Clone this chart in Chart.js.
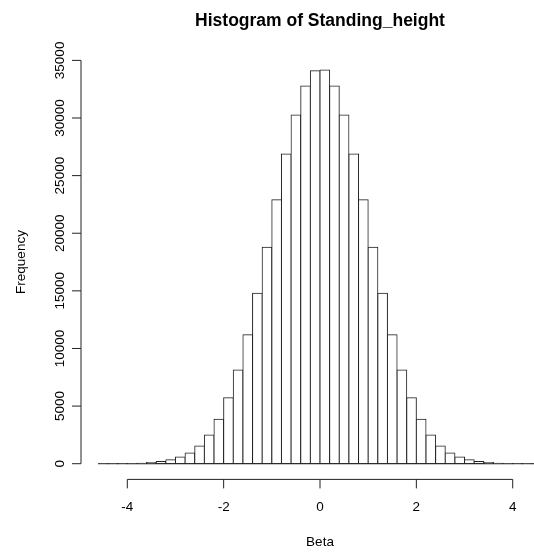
<!DOCTYPE html>
<html>
<head>
<meta charset="utf-8">
<script src="https://cdn.jsdelivr.net/npm/chart.js@4.4.1/dist/chart.umd.min.js"></script>
<style>
  html, body { margin: 0; padding: 0; background: #fff; }
  canvas { display: block; }
</style>
</head>
<body>
<canvas id="hist" width="534" height="554"></canvas>
<script>
// histogram bins (width 0.2) and counts
const breaks = [-4.6, -4.4, -4.2, -4.0, -3.8, -3.6, -3.4, -3.2, -3.0, -2.8, -2.6, -2.4,
  -2.2, -2.0, -1.8, -1.6, -1.4, -1.2, -1.0, -0.8, -0.6, -0.4, -0.2, 0.0,
  0.2, 0.4, 0.6, 0.8, 1.0, 1.2, 1.4, 1.6, 1.8, 2.0, 2.2, 2.4,
  2.6, 2.8, 3.0, 3.2, 3.4, 3.6, 3.8, 4.0, 4.2, 4.4, 4.6]
const counts = [2, 4, 9, 20, 45, 95, 185, 350, 580, 930, 1540, 2490,
  3850, 5730, 8130, 11200, 14790, 18780, 22910, 26870, 30260, 32780, 34110,
  34160, 32780, 30260, 26870, 22910, 18780, 14790, 11200, 8130, 5730, 3850,
  2490, 1540, 930, 580, 350, 185, 95, 45, 20, 9, 4, 2]
const xTicks = [-4, -2, 0, 2, 4]
const yTicks = [0, 5000, 10000, 15000, 20000, 25000, 30000, 35000]

const title = 'Histogram of Standing_height'
const xLabel = 'Beta'
const yLabel = 'Frequency'

const FONT = '"Liberation Sans", Arial, Helvetica, sans-serif'

const bars = counts.map((c, i) => ({ x: (breaks[i] + breaks[i + 1]) / 2, y: c }))
const baseline = [{ x: breaks[0], y: 0 }, { x: breaks[breaks.length - 1], y: 0 }]

// R-style axes: lines only span the tick range, labels drawn off the scales
const rAxes = {
  id: 'rAxes',
  afterDraw(chart) {
    const ctx = chart.ctx
    const xs = chart.scales.x
    const ys = chart.scales.y
    const area = chart.chartArea
    ctx.save()
    ctx.strokeStyle = '#222'
    ctx.fillStyle = '#000'
    ctx.lineWidth = 1

    // x axis
    const axY = area.bottom
    ctx.beginPath()
    ctx.moveTo(xs.getPixelForValue(xTicks[0]), axY)
    ctx.lineTo(xs.getPixelForValue(xTicks[xTicks.length - 1]), axY)
    xTicks.forEach(t => {
      const px = xs.getPixelForValue(t)
      ctx.moveTo(px, axY)
      ctx.lineTo(px, axY + 9)
    })
    ctx.stroke()
    ctx.font = '13.5px ' + FONT
    ctx.textAlign = 'center'
    ctx.textBaseline = 'middle'
    xTicks.forEach(t => ctx.fillText(String(t), xs.getPixelForValue(t), 507))

    // y axis
    const axX = area.left
    ctx.beginPath()
    ctx.moveTo(axX, ys.getPixelForValue(yTicks[0]))
    ctx.lineTo(axX, ys.getPixelForValue(yTicks[yTicks.length - 1]))
    yTicks.forEach(t => {
      const py = ys.getPixelForValue(t)
      ctx.moveTo(axX, py)
      ctx.lineTo(axX - 9, py)
    })
    ctx.stroke()
    yTicks.forEach(t => {
      ctx.save()
      ctx.translate(60, ys.getPixelForValue(t))
      ctx.rotate(-Math.PI / 2)
      ctx.fillText(String(t), 0, 0)
      ctx.restore()
    })

    // titles
    ctx.fillText(xLabel, xs.getPixelForValue(0), 542)
    ctx.save()
    ctx.translate(21, 262)
    ctx.rotate(-Math.PI / 2)
    ctx.fillText(yLabel, 0, 0)
    ctx.restore()

    ctx.font = 'bold 17.5px ' + FONT
    ctx.fillText(title, xs.getPixelForValue(0), 21)
    ctx.restore()
  }
}

new Chart(document.getElementById('hist'), {
  type: 'bar',
  data: {
    datasets: [
      {
        data: bars,
        backgroundColor: '#fff',
        borderColor: '#222',
        borderWidth: 1,
        borderSkipped: false,
        inflateAmount: 0.5,
        barPercentage: 1,
        categoryPercentage: 1,
      },
      {
        // zero line under the empty-looking tail bins
        type: 'line',
        order: -1,
        data: baseline,
        borderColor: '#222',
        borderWidth: 1,
        pointRadius: 0,
      }
    ]
  },
  options: {
    responsive: false,
    animation: false,
    devicePixelRatio: 1,
    layout: { padding: { left: 81, right: 0, top: 55, bottom: 74.6 } },
    plugins: {
      legend: { display: false },
      tooltip: { enabled: false },
      title: { display: false },
    },
    scales: {
      x: {
        type: 'linear',
        display: false,
        offset: false,
        min: -4.961,
        max: 4.442,
        ticks: { stepSize: 2 },
      },
      y: {
        display: false,
        min: -1362,
        max: 35467,
      }
    }
  },
  plugins: [rAxes]
})
</script>
</body>
</html>
